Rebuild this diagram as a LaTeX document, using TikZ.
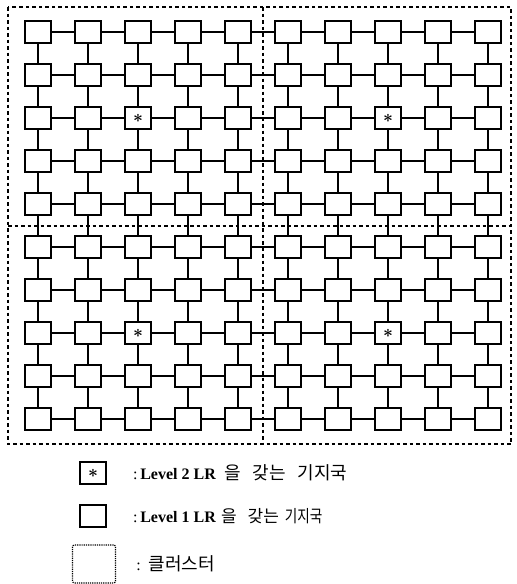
\documentclass[tikz,border=0pt]{standalone}
\usepackage{amsmath}
\usepackage{fontspec}
\setmainfont{Liberation Serif}
\newfontfamily\kofont{Noto Sans CJK KR}
\usetikzlibrary{positioning}

\begin{document}
\begin{tikzpicture}[x=1pt, y=-1pt, bs/.style={draw, line width=2pt, minimum width=26pt, minimum height=22pt, inner sep=0pt, fill=white, font=\fontsize{18}{18}\selectfont}, link/.style={line width=1.6pt}, cluster/.style={line width=1.4pt, dash pattern=on 3.5pt off 3pt}, keytext/.style={anchor=west, inner sep=0pt, font=\fontsize{16}{18}\selectfont}]
\useasboundingbox (0,0) rectangle (517,584);
\draw[cluster] (8,7) rectangle (511,444);
\draw[cluster] (263,7) -- (263,444);
\draw[cluster] (8,226) -- (511,226);
\foreach \r in {1,...,10}
  \foreach \c in {1,...,10}
    \node[bs] (n-\r-\c) at ({38+50*(\c-1)}, {32+43*(\r-1)}) {};
\foreach \r/\c in {3/3, 3/8, 8/3, 8/8}
  \node[font=\fontsize{18}{18}\selectfont] at (n-\r-\c) {$\boldsymbol{\ast}$};
\foreach \r in {1,...,10}
  \foreach \c [count=\d from 2] in {1,...,9} {
    \draw[link] (n-\r-\c) -- (n-\r-\d);
    \draw[link] (n-\c-\r) -- (n-\d-\r);
  }
\node[bs] (key2) at (93,473) {$\boldsymbol{\ast}$};
\node[bs] (key1) at (93,516) {};
\node[draw, densely dotted, line width=1.2pt, rounded corners=2pt, minimum width=43pt, minimum height=38pt] (keyc) at (94,564) {};
\node[keytext, right=26pt of key2] (txt2) {:\,\textbf{Level 2 LR}\hspace{8pt}{\kofont\fontsize{18}{18}\selectfont 을\hspace{12pt}갖는\hspace{12pt}기지국}};
\node[keytext, right=26pt of key1] (txt1) {:\,\textbf{Level 1 LR}\hspace{5pt}{\kofont\fontsize{17}{18}\selectfont 을\hspace{11pt}갖는\hspace{6pt}\scalebox{0.8}[1]{기지국}}};
\node[keytext, right=20pt of keyc] (txtc) {:\hspace{8pt}{\kofont\fontsize{18}{18}\selectfont 클러스터}};
\end{tikzpicture}
\end{document}
